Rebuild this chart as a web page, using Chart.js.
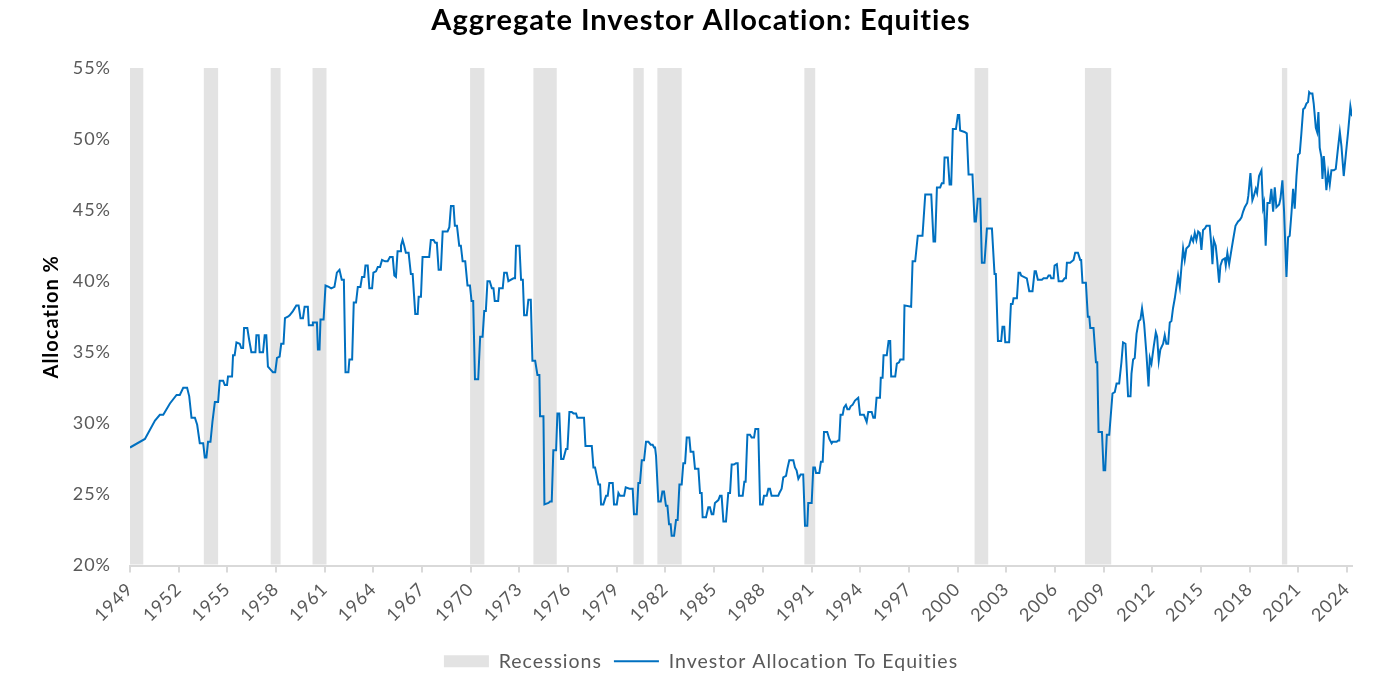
<!DOCTYPE html>
<html><head><meta charset="utf-8">
<script src="https://cdn.jsdelivr.net/npm/chart.js@4.4.1/dist/chart.umd.min.js"></script>
<style>html,body{margin:0;padding:0;background:#fff;}#wrap{width:1387px;height:682px;}</style>
</head><body><div id="wrap"><canvas id="c" width="1387" height="682" style="width:1387px;height:682px"></canvas></div>
<script>
const dates = [
1949.00,1949.92,1950.54,1950.84,1951.05,1951.46,1951.87,1952.07,1952.28,1952.52,1952.65,1952.79,1953.00,1953.14,1953.30,1953.51,1953.61,1953.71,1953.81,1953.96,
1954.08,1954.23,1954.43,1954.53,1954.74,1954.84,1954.98,1955.04,1955.29,1955.35,1955.45,1955.56,1955.76,1955.86,1955.97,1956.03,1956.23,1956.34,1956.48,1956.73,
1956.79,1956.93,1956.99,1957.20,1957.30,1957.40,1957.50,1957.65,1957.81,1957.95,1958.06,1958.22,1958.32,1958.46,1958.55,1958.73,1958.84,1959.04,1959.25,1959.39,
1959.51,1959.66,1959.76,1959.96,1960.02,1960.23,1960.27,1960.52,1960.58,1960.68,1960.74,1960.93,1961.05,1961.25,1961.40,1961.60,1961.75,1961.91,1962.05,1962.18,
1962.28,1962.46,1962.52,1962.69,1962.79,1962.93,1963.04,1963.20,1963.30,1963.44,1963.51,1963.65,1963.75,1963.92,1964.00,1964.16,1964.27,1964.41,1964.53,1964.72,
1964.88,1965.02,1965.19,1965.29,1965.39,1965.49,1965.64,1965.70,1965.80,1965.90,1966.00,1966.17,1966.31,1966.42,1966.58,1966.73,1966.79,1966.93,1967.03,1967.24,
1967.44,1967.54,1967.71,1967.81,1967.91,1968.02,1968.16,1968.27,1968.57,1968.68,1968.78,1968.94,1969.02,1969.15,1969.29,1969.39,1969.50,1969.66,1969.80,1969.95,
1970.05,1970.15,1970.26,1970.46,1970.58,1970.73,1970.83,1970.93,1971.03,1971.17,1971.30,1971.40,1971.48,1971.69,1971.75,1971.97,1972.06,1972.22,1972.32,1972.63,
1972.73,1972.79,1973.00,1973.10,1973.21,1973.29,1973.45,1973.55,1973.70,1973.80,1973.97,1974.11,1974.23,1974.27,1974.48,1974.54,1974.79,1974.89,1974.99,1975.09,
1975.26,1975.34,1975.46,1975.57,1975.71,1975.87,1975.96,1976.08,1976.22,1976.33,1976.49,1976.57,1976.98,1977.07,1977.46,1977.56,1977.66,1977.87,1977.97,1978.03,
1978.17,1978.34,1978.44,1978.54,1978.75,1978.83,1979.00,1979.10,1979.20,1979.30,1979.45,1979.55,1979.78,1979.92,1979.98,1980.06,1980.23,1980.33,1980.43,1980.54,
1980.68,1980.80,1980.95,1981.09,1981.21,1981.30,1981.36,1981.42,1981.56,1981.71,1981.81,1981.91,1982.03,1982.12,1982.22,1982.32,1982.38,1982.53,1982.65,1982.75,
1982.86,1983.00,1983.10,1983.21,1983.31,1983.47,1983.55,1983.72,1983.82,1984.03,1984.13,1984.23,1984.29,1984.50,1984.64,1984.74,1984.85,1984.95,1985.05,1985.26,
1985.36,1985.46,1985.57,1985.73,1985.87,1985.98,1986.08,1986.22,1986.35,1986.45,1986.53,1986.76,1986.86,1986.94,1987.05,1987.21,1987.31,1987.46,1987.54,1987.72,
1987.83,1987.99,1988.07,1988.24,1988.34,1988.44,1988.54,1988.95,1989.02,1989.16,1989.26,1989.43,1989.51,1989.63,1989.71,1989.88,1989.98,1990.08,1990.19,1990.33,
1990.41,1990.49,1990.60,1990.74,1990.80,1991.01,1991.11,1991.21,1991.28,1991.48,1991.58,1991.69,1991.77,1991.97,1992.10,1992.24,1992.30,1992.55,1992.65,1992.71,
1992.79,1992.92,1993.00,1993.12,1993.21,1993.33,1993.41,1993.53,1993.68,1993.88,1993.99,1994.15,1994.23,1994.40,1994.50,1994.71,1994.81,1994.91,1995.01,1995.22,
1995.27,1995.38,1995.44,1995.64,1995.75,1995.85,1995.91,1996.16,1996.26,1996.40,1996.47,1996.67,1996.73,1997.14,1997.23,1997.39,1997.55,1997.84,1998.01,1998.38,
1998.52,1998.62,1998.73,1998.93,1999.03,1999.14,1999.20,1999.40,1999.51,1999.61,1999.71,1999.90,2000.02,2000.10,2000.16,2000.43,2000.57,2000.68,2000.92,2001.05,
2001.13,2001.25,2001.40,2001.50,2001.66,2001.81,2002.12,2002.28,2002.36,2002.49,2002.69,2002.77,2002.88,2002.94,2003.18,2003.29,2003.39,2003.45,2003.66,2003.76,
2003.86,2003.92,2004.27,2004.42,2004.62,2004.75,2004.83,2004.95,2005.20,2005.30,2005.51,2005.61,2005.71,2005.77,2005.92,2005.98,2006.12,2006.23,2006.47,2006.60,
2006.68,2006.74,2006.94,2007.05,2007.15,2007.25,2007.42,2007.56,2007.62,2007.70,2007.91,2008.03,2008.12,2008.18,2008.38,2008.53,2008.61,2008.69,2008.90,2009.00,
2009.10,2009.20,2009.35,2009.55,2009.69,2009.80,2009.96,2010.10,2010.20,2010.35,2010.51,2010.66,2010.72,2010.82,2010.92,2011.03,2011.17,2011.27,2011.37,2011.50,
2011.64,2011.77,2011.85,2011.95,2012.09,2012.22,2012.30,2012.40,2012.50,2012.67,2012.77,2012.87,2012.98,2013.08,2013.18,2013.28,2013.39,2013.49,2013.59,2013.70,
2013.80,2013.90,2014.00,2014.10,2014.27,2014.41,2014.52,2014.62,2014.72,2014.83,2014.93,2015.03,2015.13,2015.24,2015.34,2015.54,2015.65,2015.71,2015.79,2015.91,
2016.00,2016.12,2016.20,2016.32,2016.47,2016.53,2016.63,2016.74,2016.88,2016.98,2017.13,2017.29,2017.39,2017.50,2017.60,2017.70,2017.85,2017.92,2018.05,2018.17,
2018.26,2018.38,2018.46,2018.58,2018.73,2018.83,2018.89,2018.99,2019.10,2019.24,2019.34,2019.45,2019.55,2019.65,2019.82,2019.90,2020.02,2020.12,2020.27,2020.37,
2020.47,2020.58,2020.68,2020.78,2020.89,2020.99,2021.09,2021.19,2021.30,2021.40,2021.50,2021.60,2021.67,2021.75,2021.87,2021.95,2022.08,2022.16,2022.24,2022.32,
2022.43,2022.49,2022.57,2022.65,2022.73,2022.84,2022.94,2023.04,2023.19,2023.31,2023.45,2023.56,2023.66,2023.80,2023.93,2024.07,2024.21,2024.31
];
const allocation = [
28.3,28.9,30.2,30.6,30.6,31.4,32.0,32.0,32.5,32.5,31.9,30.4,30.4,29.9,28.6,28.6,27.6,27.6,28.7,28.7,
30.1,31.5,31.5,33.0,33.0,32.7,32.7,33.3,33.3,34.8,34.8,35.7,35.6,35.3,35.3,36.7,36.7,35.9,35.0,35.0,
36.2,36.2,35.0,35.0,36.2,36.2,34.0,33.8,33.6,33.6,34.6,34.7,35.6,35.6,37.4,37.5,37.6,37.9,38.3,38.3,
37.4,37.4,38.2,38.2,36.9,36.9,37.1,37.1,35.2,35.2,37.3,37.3,39.7,39.6,39.5,39.6,40.6,40.8,40.1,40.1,
33.6,33.6,34.5,34.5,38.5,38.5,39.6,39.6,40.3,40.3,41.1,41.1,39.5,39.5,40.6,40.7,41.0,41.0,41.5,41.4,
41.4,41.7,41.7,40.4,40.3,42.1,42.1,42.5,42.9,42.5,42.0,42.0,40.5,40.5,37.7,37.7,38.9,38.9,41.7,41.7,
41.7,42.9,42.9,42.7,42.7,40.8,40.8,43.5,43.5,43.8,45.3,45.3,43.9,43.9,42.5,42.5,41.4,41.4,39.7,39.7,
38.6,38.6,33.1,33.1,36.1,36.1,37.9,37.9,40.0,40.0,39.5,39.5,38.6,38.6,39.5,39.5,40.6,40.6,40.0,40.2,
40.2,42.5,42.5,40.1,40.1,37.6,37.6,38.7,38.7,34.4,34.4,33.4,33.4,30.5,30.5,24.3,24.4,24.5,24.5,28.1,
28.1,30.7,30.7,27.5,27.5,28.2,28.2,30.8,30.8,30.7,30.7,30.4,30.4,28.4,28.4,26.9,26.9,25.7,25.7,24.3,
24.3,24.9,24.9,25.8,25.8,24.3,24.3,25.1,24.9,24.9,24.9,25.5,25.4,25.4,25.4,23.6,23.6,25.8,25.8,27.4,
27.4,28.7,28.7,28.5,28.5,28.3,28.3,27.7,24.5,24.5,25.2,25.2,24.2,24.2,22.9,22.9,22.1,22.1,23.2,23.2,
25.7,25.7,27.2,27.2,29.0,29.0,28.0,28.0,26.8,26.8,25.1,25.1,23.4,23.4,24.1,24.1,23.6,23.6,24.4,24.6,
24.9,24.9,23.1,23.1,25.1,25.1,27.1,27.1,27.2,27.2,24.9,24.9,25.9,25.9,29.2,29.2,29.0,29.0,29.6,29.6,
24.3,24.3,24.9,24.9,25.4,25.4,24.9,24.9,25.1,25.4,26.2,26.3,26.8,27.4,27.4,27.4,26.9,26.7,26.1,26.4,
26.4,26.4,22.8,22.8,24.4,24.4,26.9,26.9,26.5,26.5,27.3,27.3,29.4,29.4,28.9,28.6,28.7,28.7,28.8,28.8,
30.6,30.6,31.1,31.3,31.0,31.0,31.2,31.3,31.6,31.8,30.6,30.6,30.6,30.1,30.8,30.8,30.4,30.4,31.8,31.8,
33.2,33.2,34.8,34.8,35.8,35.8,33.3,33.3,34.2,34.3,34.5,34.5,38.3,38.2,41.4,41.4,43.2,43.2,46.1,46.1,
42.8,42.8,46.6,46.6,46.9,46.9,48.7,48.7,46.8,46.8,50.7,50.7,51.7,51.7,50.6,50.5,50.4,47.5,47.5,44.2,
44.2,45.8,45.8,41.3,41.3,43.7,43.7,40.5,40.5,35.8,35.8,36.8,36.8,35.7,35.7,38.4,38.4,38.8,38.8,40.6,
40.6,40.4,40.2,39.3,39.3,40.7,40.7,40.1,40.1,40.2,40.2,40.4,40.4,40.2,40.2,41.1,41.2,40.0,40.0,40.2,
40.2,41.3,41.3,41.4,41.5,42.0,42.0,41.5,41.5,39.9,39.9,37.5,37.5,36.7,36.7,34.3,34.3,29.4,29.4,26.7,
26.7,29.2,29.2,32.1,32.2,32.8,32.8,34.3,35.7,35.6,31.9,31.9,33.5,34.5,34.6,36.3,37.2,37.3,38.1,37.0,
34.9,32.6,34.6,34.2,35.4,36.4,36.1,34.4,35.2,35.6,36.2,35.6,35.6,37.1,37.2,38.1,38.8,39.6,40.4,39.6,
41.0,42.3,41.5,42.3,42.5,43.1,42.8,43.4,42.9,43.5,43.4,42.2,43.6,43.7,43.9,43.9,42.4,41.2,42.9,42.5,
41.5,39.9,41.1,41.5,41.6,41.1,42.0,41.2,42.2,42.9,43.9,44.2,44.3,44.5,44.9,45.2,45.5,46.0,47.6,45.7,
46.0,46.5,46.2,47.4,47.8,45.2,45.5,42.5,45.5,45.5,46.5,44.9,46.6,45.2,45.4,45.8,47.1,45.0,40.3,43.1,
43.2,44.8,46.5,45.1,47.4,48.9,49.0,50.4,52.1,52.2,52.5,52.6,53.3,53.2,53.2,52.5,50.8,50.5,51.9,49.4,
48.7,47.2,48.8,47.8,46.4,47.6,46.8,47.8,47.8,47.9,49.4,50.5,49.5,47.4,48.9,50.5,52.3,51.6
];
const recessionStart = [1948.94,1953.55,1957.67,1960.25,1969.96,1973.86,1980.02,1981.50,1990.56,2001.05,2007.85,2019.99];
const recessionEnd   = [1949.82,1954.43,1958.28,1961.11,1970.84,1975.30,1980.66,1983.00,1991.23,2001.89,2009.47,2020.32];
const tickYears = [1949,1952,1955,1958,1961,1964,1967,1970,1973,1976,1979,1982,1985,1988,1991,1994,1997,2000,2003,2006,2009,2012,2015,2018,2021,2024];
const yTicks = [20,25,30,35,40,45,50,55];
const seriesName = 'Investor Allocation To Equities';
const recessionName = 'Recessions';
const chartTitle = 'Aggregate Investor Allocation: Equities';
const yTitle = 'Allocation %';

const FONT = 'Lato, "Open Sans", sans-serif';
const GREY_TXT = '#595959';
const REC_COLOR = '#E3E3E3';
const LINE_COLOR = '#0070C0';

const spacingPlugin = {
  id: 'letterSpacing',
  beforeLayout(chart) { chart.ctx.letterSpacing = '1px'; },
  beforeDraw(chart) { chart.ctx.letterSpacing = '1px'; }
};

const recessionPlugin = {
  id: 'recessions',
  beforeDatasetsDraw(chart) {
    const {ctx, chartArea, scales: {x}} = chart;
    ctx.save();
    ctx.beginPath();
    ctx.rect(chartArea.left, chartArea.top, chartArea.right - chartArea.left, chartArea.bottom - chartArea.top);
    ctx.clip();
    ctx.fillStyle = REC_COLOR;
    recessionStart.forEach((s, i) => {
      const x0 = x.getPixelForValue(s);
      const x1 = x.getPixelForValue(recessionEnd[i]);
      ctx.fillRect(x0, chartArea.top, x1 - x0, chartArea.bottom - chartArea.top - 1);
    });
    ctx.restore();
  }
};

new Chart(document.getElementById('c'), {
  type: 'line',
  data: {
    datasets: [{
      label: seriesName,
      data: dates.map((d, i) => ({x: d, y: allocation[i]})),
      borderColor: LINE_COLOR,
      backgroundColor: LINE_COLOR,
      borderWidth: 2,
      pointRadius: 0,
      tension: 0,
      fill: false
    }]
  },
  options: {
    responsive: false,
    animation: false,
    devicePixelRatio: 1,
    layout: {padding: {left: 50, right: 35, top: 0, bottom: 1}},
    plugins: {
      title: {
        display: true,
        text: chartTitle,
        color: '#000',
        font: {family: FONT, size: 29, weight: 'bold'},
        padding: {top: 3, bottom: 30.2}
      },
      legend: {
        position: 'bottom',
        labels: {
          color: GREY_TXT,
          font: {family: FONT, size: 19.5},
          usePointStyle: true,
          pointStyleWidth: 45,
          boxHeight: 12,
          padding: 12,
          generateLabels: () => [
            {text: recessionName, fillStyle: REC_COLOR, strokeStyle: REC_COLOR, lineWidth: 0, pointStyle: 'rect', fontColor: GREY_TXT, hidden: false, datasetIndex: -1},
            {text: seriesName, fillStyle: LINE_COLOR, strokeStyle: LINE_COLOR, lineWidth: 2, pointStyle: 'line', fontColor: GREY_TXT, hidden: false, datasetIndex: 0}
          ]
        },
        onClick: () => {}
      },
      tooltip: {enabled: false}
    },
    scales: {
      x: {
        type: 'linear',
        min: 1949,
        max: 2024.31,
        afterBuildTicks: (scale) => { scale.ticks = tickYears.map(v => ({value: v})); },
        afterFit: (scale) => { scale.height = 74; },
        grid: {display: true, drawOnChartArea: false, drawTicks: true, tickLength: 7, color: '#D9D9D9', lineWidth: 2},
        border: {display: true, color: '#D9D9D9', width: 2},
        ticks: {
          autoSkip: false,
          maxRotation: 45,
          minRotation: 45,
          padding: 6,
          color: GREY_TXT,
          font: {family: FONT, size: 18},
          callback: (v) => String(v)
        }
      },
      y: {
        min: 20,
        max: 55,
        afterBuildTicks: (scale) => { scale.ticks = yTicks.map(v => ({value: v})); },
        afterFit: (scale) => { scale.width = 80; },
        grid: {display: false, drawTicks: false},
        border: {display: false},
        ticks: {
          padding: 19,
          color: GREY_TXT,
          font: {family: FONT, size: 18},
          callback: (v) => v + '%'
        },
        title: {
          display: true,
          text: yTitle,
          color: '#000',
          font: {family: FONT, size: 20, weight: 'bold'},
          padding: {top: -10, bottom: 0}
        }
      }
    }
  },
  plugins: [spacingPlugin, recessionPlugin]
});
</script>
</body></html>
